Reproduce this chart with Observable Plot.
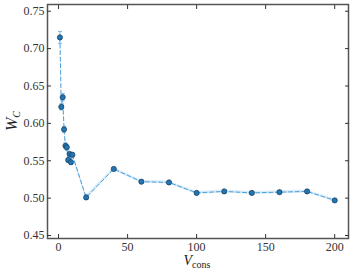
<!DOCTYPE html>
<html><head><meta charset="utf-8">
<script src="https://cdn.jsdelivr.net/npm/d3@7"></script>
<script src="https://cdn.jsdelivr.net/npm/@observablehq/plot@0.6"></script>
<style>body{margin:0;background:#fff} svg{display:block} svg text{font-family:"Liberation Serif","DejaVu Serif",serif !important}</style>
</head><body><div id="chart"></div>
<script>
const vcons = [1, 2, 3, 4, 5, 6, 7, 8, 9, 10, 20, 40, 60, 80, 100, 120, 140, 160, 180, 200];
const wc = [0.715, 0.622, 0.635, 0.592, 0.570, 0.568, 0.551, 0.559, 0.548, 0.558, 0.501, 0.539, 0.522, 0.521, 0.507, 0.509, 0.507, 0.508, 0.509, 0.497];
const wcErr = [0.008, 0.004, 0.005, 0.004, 0.004, 0.004, 0.003, 0.003, 0.003, 0.003, 0.003, 0.002, 0.002, 0.002, 0.002, 0.002, 0.002, 0.002, 0.002, 0.002];
const xTicks = [0, 50, 100, 150, 200];
const yTicks = [0.45, 0.50, 0.55, 0.60, 0.65, 0.70, 0.75];

const data = vcons.map((x, i) => ({x, y: wc[i], lo: wc[i] - wcErr[i], hi: wc[i] + wcErr[i]}));
const cap = {draw(ctx, size) { const r = Math.sqrt(size / Math.PI); ctx.moveTo(-r, 0); ctx.lineTo(r, 0); }};
const errColor = "#7ab8e4";
const blank = () => "";
const serif = "'Liberation Serif', 'DejaVu Serif', serif";

const plot = Plot.plot({
  width: 353, height: 275,
  marginLeft: 47, marginRight: 5, marginTop: 4, marginBottom: 37,
  style: {fontSize: "12px", color: "#333", background: "#fff"},
  x: {domain: [-8, 210], label: null},
  y: {domain: [0.446, 0.759], label: null},
  marks: [
    Plot.areaY(data, {x: "x", y1: "lo", y2: "hi", fill: "#b8dbf3", fillOpacity: 0.5}),
    Plot.line(data, {x: "x", y: "y", stroke: "#4b9fd8", strokeWidth: 1, strokeDasharray: "4,2.6"}),
    Plot.ruleX(data, {x: "x", y1: "lo", y2: "hi", stroke: errColor, strokeWidth: 1}),
    Plot.dot(data, {x: "x", y: "lo", symbol: cap, r: 2, stroke: errColor, strokeWidth: 1}),
    Plot.dot(data, {x: "x", y: "hi", symbol: cap, r: 2, stroke: errColor, strokeWidth: 1}),
    Plot.dot(data, {x: "x", y: "y", r: 2.6, fill: "#2176b4", stroke: "#1b3a58", strokeWidth: 0.7}),
    Plot.frame({stroke: "#555", strokeWidth: 1.5}),
    Plot.axisX(xTicks, {anchor: "bottom", tickSize: 0, tickPadding: 4, fill: "#333"}),
    Plot.axisY(yTicks, {anchor: "left", tickSize: 0, tickPadding: 3, fill: "#333", tickFormat: d3.format(".2f")}),
    Plot.axisX(xTicks, {anchor: "bottom", tickSize: -4, tickFormat: blank}),
    Plot.axisX(xTicks, {anchor: "top", tickSize: -4, tickFormat: blank}),
    Plot.axisY(yTicks, {anchor: "left", tickSize: -4, tickFormat: blank}),
    Plot.axisY(yTicks, {anchor: "right", tickSize: -4, tickFormat: blank})
  ]
});
document.getElementById("chart").appendChild(plot);

const svg = d3.select(plot);
svg.style("font-family", serif);
const xl = svg.append("text")
  .attr("x", 197).attr("y", 265)
  .attr("text-anchor", "middle")
  .style("fill", "#222");
xl.append("tspan").attr("font-style", "italic").attr("font-size", 14).text("V");
xl.append("tspan").attr("font-size", 10).attr("dy", 3).text("cons");
const yl = svg.append("text")
  .attr("transform", "translate(17,121) rotate(-90)")
  .attr("text-anchor", "middle")
  .style("fill", "#222");
yl.append("tspan").attr("font-style", "italic").attr("font-size", 16).text("W");
yl.append("tspan").attr("font-style", "italic").attr("font-size", 10).attr("dy", 3).text("C");
svg.selectAll("text").style("font-family", serif);
</script></body></html>
